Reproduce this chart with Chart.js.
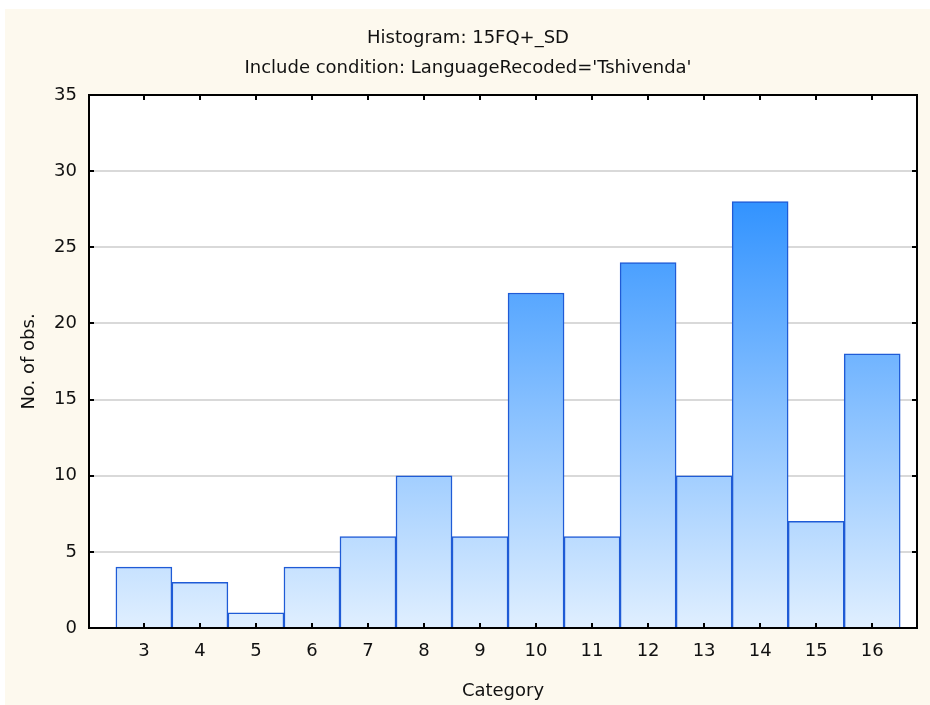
<!DOCTYPE html>
<html>
<head>
<meta charset="utf-8">
<script src="https://cdn.jsdelivr.net/npm/chart.js@4.4.1/dist/chart.umd.min.js"></script>
<style>
  html, body { margin: 0; padding: 0; background: #ffffff; }
  #wrap { width: 930px; height: 705px; }
</style>
</head>
<body>
<div id="wrap"><canvas id="myChart" width="930" height="705"></canvas></div>
<script>
// data
const categories = [3, 4, 5, 6, 7, 8, 9, 10, 11, 12, 13, 14, 15, 16];
const counts = [4, 3, 1, 4, 6, 10, 6, 22, 6, 24, 10, 28, 7, 18];
const yTicks = [0, 5, 10, 15, 20, 25, 30, 35];

const FONT = "'DejaVu Sans', 'Liberation Sans', Arial, sans-serif";
const maxCount = Math.max(...counts);

// gradient runs over the value axis, light at 0, deep blue at the tallest bar
function barFill(ctx) {
  const chart = ctx.chart;
  const area = chart.chartArea;
  if (!area) return '#9cc8ff';
  const y = chart.scales.y;
  const g = chart.ctx.createLinearGradient(0, y.getPixelForValue(0), 0, y.getPixelForValue(maxCount));
  g.addColorStop(0, '#e0efff');
  g.addColorStop(1, '#3293ff');
  return g;
}

// cream page + white plot area
const backdrop = {
  id: 'backdrop',
  beforeDraw(chart) {
    const c = chart.ctx;
    const a = chart.chartArea;
    c.save();
    c.fillStyle = '#ffffff';
    c.fillRect(0, 0, chart.width, chart.height);
    c.fillStyle = '#fdf9ee';
    c.fillRect(5, 9, chart.width - 5, chart.height - 9);
    c.fillStyle = '#ffffff';
    c.fillRect(a.left, a.top, a.right - a.left, a.bottom - a.top);
    c.restore();
  }
};

// box frame with inward tick marks on all four sides
const frame = {
  id: 'frame',
  afterDatasetsDraw(chart) {
    const c = chart.ctx;
    const a = chart.chartArea;
    const xs = chart.scales.x, ys = chart.scales.y;
    c.save();
    c.strokeStyle = '#000000';
    c.lineWidth = 2;
    c.strokeRect(a.left, a.top, a.right - a.left, a.bottom - a.top);
    c.beginPath();
    categories.forEach(v => {
      const px = Math.round(xs.getPixelForValue(v));
      c.moveTo(px, a.bottom); c.lineTo(px, a.bottom - 5);
      c.moveTo(px, a.top); c.lineTo(px, a.top + 5);
    });
    yTicks.forEach(v => {
      const py = Math.round(ys.getPixelForValue(v));
      c.moveTo(a.left, py); c.lineTo(a.left + 5, py);
      c.moveTo(a.right, py); c.lineTo(a.right - 5, py);
    });
    c.stroke();
    c.restore();
  }
};

const data = {
  datasets: [{
    label: 'No. of obs.',
    data: categories.map((c, i) => ({ x: c, y: counts[i] })),
    backgroundColor: barFill,
    borderColor: '#1f5bd6',
    borderWidth: 1.5,
    barPercentage: 1,
    categoryPercentage: 1
  }]
};

const config = {
  type: 'bar',
  data,
  options: {
    responsive: false,
    animation: false,
    layout: { padding: { left: 19, right: 13, top: 0, bottom: 0 } },
    scales: {
      x: {
        type: 'linear',
        offset: false,
        min: 2.02,
        max: 16.8,
        afterBuildTicks: axis => { axis.ticks = categories.map(v => ({ value: v })); },
        afterFit: axis => { axis.height = 77; },
        grid: { display: false, drawTicks: false },
        border: { display: false },
        ticks: { padding: 13, color: '#111111', font: { family: FONT, size: 18, lineHeight: 1.2 } },
        title: {
          display: true, text: 'Category', color: '#111111',
          padding: { top: 0, bottom: 3 },
          font: { family: FONT, size: 18, lineHeight: 1.2 }
        }
      },
      y: {
        min: 0,
        max: 35,
        afterBuildTicks: axis => { axis.ticks = yTicks.map(v => ({ value: v })); },
        afterFit: axis => { axis.width = 70; },
        grid: {
          drawTicks: false,
          lineWidth: 2,
          color: ctx => (ctx.tick && (ctx.tick.value === 0 || ctx.tick.value === 35)) ? 'rgba(0,0,0,0)' : '#d9d9d9'
        },
        border: { display: false },
        ticks: { padding: 12, color: '#111111', font: { family: FONT, size: 18, lineHeight: 1.2 } },
        title: {
          display: true, text: 'No. of obs.', color: '#111111',
          padding: { top: 0, bottom: 0 },
          font: { family: FONT, size: 18, lineHeight: 1.2 }
        }
      }
    },
    plugins: {
      legend: { display: false },
      tooltip: { enabled: false },
      title: {
        display: true, text: 'Histogram: 15FQ+_SD', color: '#111111',
        padding: { top: 28, bottom: 8 },
        font: { family: FONT, size: 18, weight: 'normal', lineHeight: 1.2 }
      },
      subtitle: {
        display: true, text: "Include condition: LanguageRecoded='Tshivenda'", color: '#111111',
        padding: { top: 0, bottom: 15.8 },
        font: { family: FONT, size: 18, weight: 'normal', lineHeight: 1.2 }
      }
    }
  },
  plugins: [backdrop, frame]
};

const myChart = new Chart(document.getElementById('myChart'), config);
</script>
</body>
</html>
